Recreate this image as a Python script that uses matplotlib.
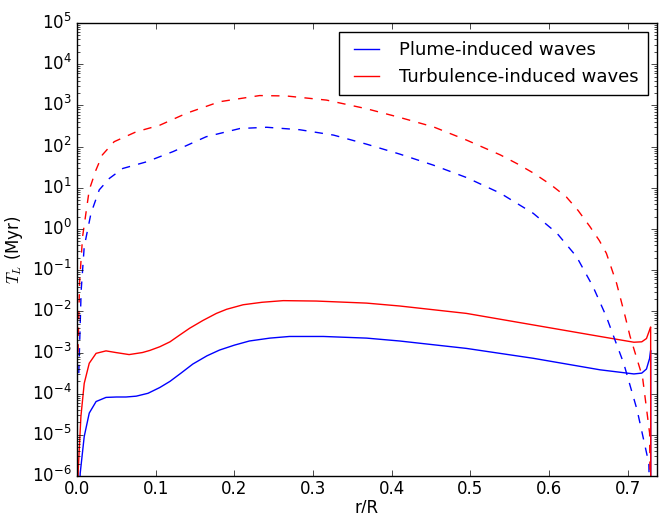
import numpy as np
import matplotlib
matplotlib.use("Agg")
from matplotlib import pyplot as plt

# radius (r/R) and log10(T_L / Myr)
r_turb_solid = [0.0005, 0.0013, 0.0047, 0.0089, 0.0153, 0.024, 0.0366, 0.049, 0.066, 0.083,
                0.0922, 0.105, 0.118, 0.13, 0.143, 0.16, 0.177, 0.19, 0.211, 0.235,
                0.262, 0.304, 0.368, 0.41, 0.495, 0.58, 0.665, 0.708, 0.718, 0.724,
                0.728, 0.7293, 0.7295]
log_turb_solid = [-7.0, -5.85, -4.55, -3.75, -3.26, -3.02, -2.96, -3.0, -3.05, -3.0,
                  -2.95, -2.86, -2.74, -2.58, -2.41, -2.22, -2.05, -1.95, -1.84, -1.78,
                  -1.74, -1.75, -1.80, -1.87, -2.05, -2.33, -2.61, -2.75, -2.74, -2.66,
                  -2.45, -2.38, -8.0]

r_plume_solid = [0.002, 0.0038, 0.0089, 0.0153, 0.024, 0.0366, 0.05, 0.062, 0.075, 0.09,
                 0.105, 0.118, 0.132, 0.147, 0.165, 0.181, 0.2, 0.219, 0.245, 0.27,
                 0.313, 0.368, 0.41, 0.495, 0.58, 0.665, 0.708, 0.718, 0.724, 0.728,
                 0.7293, 0.7295]
log_plume_solid = [-7.0, -5.93, -5.04, -4.47, -4.19, -4.09, -4.08, -4.08, -4.06, -3.99,
                   -3.85, -3.70, -3.50, -3.28, -3.08, -2.94, -2.82, -2.72, -2.65, -2.61,
                   -2.61, -2.65, -2.72, -2.90, -3.14, -3.42, -3.52, -3.50, -3.40, -3.14,
                   -2.95, -8.0]

r_turb_dash = [0.001, 0.003, 0.0068, 0.0153, 0.0238, 0.032, 0.047, 0.075, 0.105, 0.139,
               0.181, 0.232, 0.266, 0.317, 0.368, 0.41, 0.453, 0.495, 0.538, 0.56,
               0.58, 0.602, 0.622, 0.637, 0.652, 0.664, 0.673, 0.686, 0.697, 0.703,
               0.719, 0.728, 0.7295]
log_turb_dash = [-3.0, -1.3, -0.19, 0.95, 1.43, 1.80, 2.12, 2.36, 2.52, 2.81,
                 3.09, 3.24, 3.23, 3.13, 2.92, 2.71, 2.48, 2.16, 1.80, 1.58,
                 1.36, 1.08, 0.78, 0.45, 0.06, -0.28, -0.59, -1.32, -2.13, -2.60,
                 -3.60, -4.96, -8.0]

r_plume_dash = [0.002, 0.005, 0.0089, 0.0175, 0.028, 0.041, 0.058, 0.088, 0.122, 0.164,
                0.207, 0.241, 0.283, 0.326, 0.368, 0.41, 0.453, 0.495, 0.538, 0.58,
                0.61, 0.635, 0.656, 0.673, 0.684, 0.695, 0.712, 0.727, 0.7295]
log_plume_dash = [-3.5, -1.5, -0.43, 0.38, 0.95, 1.23, 1.47, 1.63, 1.88, 2.24,
                  2.44, 2.47, 2.41, 2.28, 2.06, 1.82, 1.55, 1.25, 0.87, 0.38,
                  -0.10, -0.67, -1.40, -2.13, -2.70, -3.26, -4.39, -5.69, -8.0]

plt.style.use('classic')
plt.rcParams['figure.facecolor'] = 'white'
plt.rcParams['savefig.facecolor'] = 'white'

fig = plt.figure(figsize=(6.6, 5.13), dpi=100)
ax = fig.add_axes([0.117, 0.072, 0.878, 0.883])

ax.plot(r_plume_solid, 10**np.array(log_plume_solid), 'b-', lw=1.0, label='Plume-induced waves')
ax.plot(r_turb_solid, 10**np.array(log_turb_solid), 'r-', lw=1.0, label='Turbulence-induced waves')
ax.plot(r_plume_dash, 10**np.array(log_plume_dash), 'b--', lw=1.0)
ax.plot(r_turb_dash, 10**np.array(log_turb_dash), 'r--', lw=1.0)

ax.set_yscale('log')
ax.set_ylim(1e-6, 1e5)
ax.set_xlim(0, 0.737)
ax.set_xticks([0.0, 0.1, 0.2, 0.3, 0.4, 0.5, 0.6, 0.7])
ax.tick_params(axis='x', which='major', pad=3)
ax.set_xlabel('r/R', labelpad=0)
ax.set_ylabel('$T_L$ (Myr)')
ax.legend(loc='upper right', fontsize=13, handlelength=2.0, borderpad=0.5)

fig.savefig('out.png', dpi=100)
